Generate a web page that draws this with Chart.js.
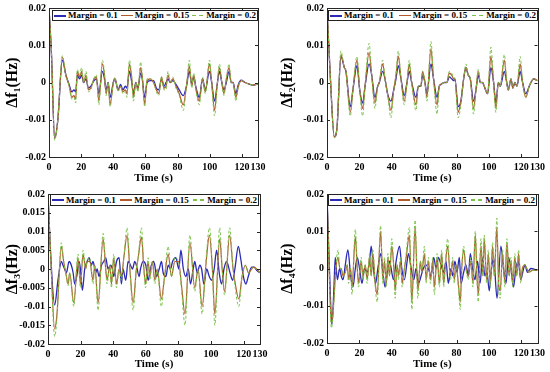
<!DOCTYPE html>
<html><head><meta charset="utf-8">
<script src="https://cdn.jsdelivr.net/npm/chart.js@4"></script>
<style>
html,body{margin:0;padding:0;background:#fff;}
body{width:550px;height:372px;position:relative;overflow:hidden;}
.panel{position:absolute;width:275px;height:186px;}
.panel canvas{position:absolute;left:0;top:0;}
.legend{position:absolute;box-sizing:border-box;border:1px solid #222;background:#fff;display:flex;justify-content:space-between;align-items:center;padding:0 1px;font:bold 9px "Liberation Serif",serif;color:#000;white-space:nowrap;line-height:9px;}
.item{display:flex;align-items:center;}
.sw{display:inline-block;width:12px;margin-right:2px;}
</style></head><body>
<script>
// ---------- axes / labels ----------
const X_TICKS=[0,20,40,60,80,100,120,130];
const Y_TICKS_A=[-0.02,-0.01,0,0.01,0.02];
const Y_LABELS_A=['-0.02','-0.01','0','0.01','0.02'];
const Y_TICKS_B=[-0.02,-0.015,-0.01,-0.005,0,0.005,0.01,0.015,0.02];
const Y_LABELS_B=['-0.02','-0.015','-0.01','-0.005','0','0.005','0.01','0.015','0.02'];
const SERIES=['Margin = 0.1','Margin = 0.15','Margin = 0.2'];
const Y_TITLES=['Δf₁(Hz)','Δf₂(Hz)','Δf₃(Hz)','Δf₄(Hz)'];
const X_TITLE='Time (s)';

// ---------- panel 1 (Δf1) ----------
const P1_T=[0,1.5,3.5,5.5,8.3,10.5,12.5,14.2,15.5,16.6,
17.6,19,20.3,21.5,23,24.5,26,28,29.5,31,
33.2,34.5,35.5,36.8,38,40,41,43,44.5,46,
47.5,48.5,50,51.5,52.5,54,55.3,57,58,59.5,
61,63,65,66.8,68.3,70,71.5,72.8,74,75.5,
77,79,81,83.5,85.5,87.3,88.8,90,91.5,93.5,
95.5,97.2,99.8,101,103,104.5,106,107.5,108.8,110.3,
112,113.3,114.5,116.2,117.8,119.5,122,125,127,130];
const P1_M01=[0.02,0.008,-0.015,-0.01,0.006,0.002,-0.0005,-0.0025,-0.002,-0.0025,
0.002,0.001,0.002,0,0.001,-0.0015,-0.001,0.0005,0.001,-0.003,
0.003,0.001,-0.002,0,-0.004,0,0.001,-0.002,-0.0005,-0.002,
-0.001,-0.0015,0.003,0,-0.003,0,-0.0015,0.0025,0.001,-0.004,
0,0.0005,0.0005,-0.0015,-0.002,0.001,-0.001,0,0.001,0,
0.0005,-0.0005,-0.002,-0.0035,-0.001,0.003,-0.0005,0.0015,-0.0015,-0.004,
0.001,-0.002,0.003,0.0005,-0.005,-0.001,0.003,0,-0.002,0,
0.003,0,0,-0.003,-0.0005,0.0006,0,-0.0005,-0.0007,-0.0004];
const P1_M015=[0.02,0.008,-0.015,-0.01,0.0068,0.002,-0.0008,-0.004,-0.0035,-0.0045,
0.003,0.0015,0.003,0,0.002,-0.002,-0.0015,0.001,0.0015,-0.005,
0.005,0.002,-0.003,0,-0.006,0,0.001,-0.002,-0.001,-0.0025,
-0.002,-0.003,0.005,0.001,-0.004,0,-0.002,0.004,0.0015,-0.006,
0.0005,0.001,0,-0.002,-0.003,0.0015,-0.0015,-0.001,0.002,0,
0.001,-0.001,-0.003,-0.006,-0.001,0.0045,-0.001,0.002,-0.002,-0.005,
0.001,-0.0025,0.005,0.001,-0.0075,-0.001,0.004,0,-0.003,0.001,
0.004,0,0,-0.004,-0.001,0.0005,0,-0.0005,-0.0007,-0.0004];
const P1_M02=[0.02,0.008,-0.0155,-0.01,0.0072,0.002,-0.001,-0.0045,-0.004,-0.0055,
0.0035,0.002,0.004,0,0.003,-0.0025,-0.002,0.0012,0.002,-0.006,
0.006,0.0025,-0.0035,0,-0.0065,0,0.0015,-0.0025,-0.001,-0.003,
-0.0025,-0.004,0.006,0.0015,-0.005,0,-0.0025,0.0055,0.002,-0.0065,
0.001,0.001,0,-0.0025,-0.0035,0.0015,-0.002,-0.002,0.003,0,
0.0015,-0.0015,-0.0035,-0.0075,-0.001,0.006,-0.0015,0.0025,-0.0025,-0.006,
0.0015,-0.003,0.006,0.001,-0.009,-0.0015,0.005,0,-0.0035,0.001,
0.005,0,0,-0.005,-0.001,0.0005,0,-0.0005,-0.0007,-0.0004];

// ---------- panel 2 (Δf2) ----------
const P2_T=[0,2,4.5,6.2,8.6,10.7,11.7,14.4,16,18.5,
20.2,22,23.5,26,27.6,29.6,31.3,32.3,34.4,35.8,
37.4,39.5,41.2,42.6,44,45.7,47.7,49.4,50.8,52.3,
55,56.4,58,59,60.5,61.7,64.2,65.8,68,69.3,
70.4,72.4,74,75.5,77,78.2,79,81,82.7,84.4,
85.8,87.2,88.5,90.5,92,93.4,94.7,96.1,97.1,99.2,
101.2,102.9,104.3,105.8,107,109.5,111,112,113.6,114.8,
116,117.3,119.3,120.8,122.8,124.9,127.6,130];
const P2_M01=[0.02,0.002,-0.0146,-0.012,0.007,0.004,0.003,-0.0065,-0.002,0.0045,
-0.002,-0.0055,-0.001,0.005,0.002,-0.004,-0.001,0,0.003,0.001,
-0.003,-0.005,-0.002,0.001,0.0045,0.001,-0.0035,0,0.003,0,
-0.004,-0.001,-0.001,0.002,0,-0.003,0.005,0.001,-0.004,-0.001,
-0.0005,0,0,0.0015,0.001,0.0005,0.001,-0.0065,-0.005,0.001,
0.004,0.002,0.001,-0.005,-0.002,0.002,0,0,-0.001,-0.003,
0.004,0,-0.0055,0,-0.001,0.003,0,-0.002,0.001,-0.0015,
0,-0.001,0.003,0,-0.003,-0.001,0.001,0.0005];
const P2_M015=[0.02,0.002,-0.0146,-0.012,0.0075,0.004,0.003,-0.008,-0.002,0.006,
-0.002,-0.007,-0.001,0.008,0.002,-0.0055,-0.001,0,0.005,0.001,
-0.003,-0.0075,-0.002,0.002,0.007,0.001,-0.005,0,0.005,0,
-0.006,-0.001,-0.001,0.003,0,-0.004,0.009,0.001,-0.006,-0.001,
-0.0005,0,0,0.0025,0.002,0.001,0.001,-0.008,-0.005,0.001,
0.004,0.002,0.001,-0.007,-0.002,0.003,0,0,-0.001,-0.003,
0.007,0,-0.007,0,-0.001,0.006,0,-0.002,0.001,-0.0015,
0,-0.001,0.005,0,-0.004,-0.001,0.001,0.0005];
const P2_M02=[0.02,0.002,-0.0148,-0.012,0.0085,0.004,0.003,-0.009,-0.002,0.007,
-0.002,-0.009,-0.001,0.0105,0.002,-0.007,-0.001,0,0.006,0.001,
-0.003,-0.0095,-0.002,0.002,0.0085,0.001,-0.006,0,0.006,0,
-0.0075,-0.001,-0.001,0.003,0,-0.005,0.011,0.001,-0.0085,-0.001,
-0.0005,0,0,0.003,0.0025,0.0015,0.001,-0.0095,-0.006,0.001,
0.005,0.002,0.001,-0.0085,-0.002,0.0035,0,0,-0.001,-0.003,
0.0095,0,-0.008,0,-0.001,0.0075,0,-0.002,0.001,-0.0015,
0,-0.001,0.007,0,-0.004,-0.001,0.001,0.0005];

// ---------- panel 3 (Δf3) ----------
const P3_T01=[0,1.5,4.1,6.1,8.2,9.2,10.2,11.3,12.9,14.3,
15.4,16.4,17.8,19,19.9,21.1,22.5,24,25.2,26.6,
27.6,29.3,30.1,31.3,32.8,34.2,35.4,36.8,38.3,39.5,
40.3,42,43.6,45,46,47.7,49.1,50.6,51.8,53.2,
54.2,55.9,56.7,58.3,60,61.4,62.8,64.5,65.5,66.5,
68.2,69.6,70.6,72.3,73.7,75.1,76.4,78.4,80.2,81.5,
83,84.5,86,87.4,89,90,91.5,93.1,94.2,95.6,
97.3,98.9,100.3,101.9,103.4,105,106.4,107.9,109.5,111.6,
113.2,114.6,116.7,118.1,119.8,121.4,122.8,124.9,126.3,128.3,
130];
const P3_M01=[0.02,0.005,-0.0096,-0.003,0.002,0.001,0,-0.001,0.002,0.001,
-0.001,-0.004,-0.0015,0.002,0,-0.0057,0,0.002,0.003,0.001,
0.002,-0.001,0,-0.002,0.001,0.002,0.003,0,0.001,0,
-0.002,0.002,0.003,-0.004,0,-0.003,0.002,0.001,0,0.002,
0.001,-0.002,0,0.002,0.001,-0.003,0,0.002,0.001,-0.002,
0,0.002,-0.001,-0.002,0.001,0,0.002,0.003,0,0.005,
0,-0.002,0,-0.004,0,0.002,-0.001,0.001,0,-0.004,
0,-0.002,-0.003,0,0.005,-0.001,-0.004,0,0.002,-0.001,
-0.003,0,0.006,0.003,-0.002,-0.004,-0.002,0.0005,0.0005,-0.0005,
-0.001];
const P3_T=[0,1.5,4.1,5.5,8.2,9.6,11.3,12.3,13.3,15.8,
18.4,19.9,21.5,23.1,24,25.6,27.6,28.7,30.7,33.8,
35.4,36.2,37.9,38.9,40.3,42,43.6,45,46.5,48.5,
50.2,52.2,54.2,55.3,57.3,58.8,59.8,61.4,62.4,64,
65.5,67,69.5,71.5,73.7,75.7,77.8,80,82,84,
87,90,92,94.5,97,99,100.8,102.3,105.3,106.8,
108.3,111.4,113.5,114.5,117,119,121,123,126,128,
130];
const P3_M015=[0.02,0.005,-0.016,-0.012,0.006,0.002,-0.002,-0.004,-0.001,-0.009,
0.003,-0.004,0.004,0,0.002,0.002,-0.003,0.001,-0.009,0.008,
0,-0.003,0.001,-0.004,0.003,-0.004,0,-0.002,0.003,0.009,
0,-0.009,0,0.003,0.0085,0,-0.004,0.002,-0.002,0.002,
-0.003,0,-0.008,-0.002,0.004,-0.002,0.002,0.002,-0.005,-0.012,
0.007,-0.005,0,-0.01,0.002,0.009,0,-0.012,0.008,0,
-0.006,0.009,0,-0.003,-0.008,-0.002,0.001,-0.001,0.0005,0,
-0.001];
const P3_M02=[0.02,0.005,-0.018,-0.013,0.007,0.002,-0.002,-0.0045,-0.001,-0.01,
0.004,-0.005,0.005,0,0.002,0.003,-0.004,0.001,-0.011,0.0095,
0,-0.004,0.001,-0.005,0.004,-0.005,0,-0.003,0.003,0.011,
0,-0.011,0,0.003,0.011,0,-0.005,0.003,-0.003,0.002,
-0.004,0,-0.01,-0.002,0.006,-0.002,0.003,0.002,-0.006,-0.015,
0.009,-0.006,0,-0.012,0.003,0.011,0,-0.015,0.011,0,
-0.007,0.011,0,-0.004,-0.01,-0.002,0.001,-0.001,0.0005,0,
-0.001];

// ---------- panel 4 (Δf4) ----------
const P4_T01=[0,1.5,3.1,4.3,5.1,6.4,7.8,8.8,9.9,11.3,
12.9,14.6,16,17.5,18.7,20.1,21.6,23.2,24.8,26.3,
27.3,28.7,30,31.4,33.1,34.5,35.9,37.6,38.6,39.6,
41.1,42.7,44.8,46.2,47.8,49.5,50.3,52,53.6,55,
56.5,58.1,59.5,61.2,62.6,64.3,65.9,67.4,68.8,70.4,
72.1,73.5,74.9,76.6,77.6,79,80.3,81.7,82.8,84.4,
85.8,87.3,88.5,89.9,91.4,93,94.5,96.1,97.5,98.8,
100.2,101.6,102.9,105,107.4,109,110.5,112.1,113.6,115.2,
116.6,118.1,119.7,121.4,122.2,123.8,125.9,130];
const P4_M01=[0.02,0,-0.015,-0.005,0.003,-0.003,0,-0.002,-0.003,0.001,
0.005,-0.002,-0.005,0,0.003,0,-0.004,0,-0.001,0.002,
0.006,0,-0.004,0,0.004,-0.001,-0.005,0,0.002,0,
-0.003,0.002,0.006,0,-0.003,0.002,0.004,0,-0.003,0,
-0.004,-0.002,0,0.001,0,-0.002,0.003,0,0.003,0.001,
-0.001,0.002,-0.004,0,-0.002,0.002,-0.001,0.003,-0.004,-0.001,
0.001,-0.002,0.004,0,-0.003,0.002,-0.004,0.003,-0.002,-0.001,
-0.006,0,0.003,-0.008,0.006,0,-0.004,0.003,0,-0.005,
0,0.002,-0.003,0,0.001,-0.001,0,-0.0005];
const P4_T=[0,1.3,2.7,4.3,5.3,6.8,8,8.8,9.9,11.3,
12.5,13.3,14.6,15.4,17.5,18.7,19.5,21.1,22.2,23.6,
24.8,26.3,27.3,28.3,29.8,31,33.1,34.5,35.5,36.6,
37.6,38.6,40,41.3,42.1,43.3,44.1,45.4,46.4,47.8,
48.9,50.9,52.4,54.4,56.1,57.7,58.5,60.2,61.2,62.6,
63.9,65.3,66.3,68,69.4,70.8,72.1,72.9,74.5,76.2,
77.6,78.6,79.7,81.1,82.3,83.2,84.4,85.8,87.3,88.9,
90.1,91.6,92.6,93.4,95.1,96.3,97.1,98.6,99.6,100.8,
102.3,103.3,104.9,106,107,108.4,109.9,111.1,112.5,113.6,
114.8,116,117.2,118.3,119.7,120.7,122.2,123.4,124.8,126.9,
130];
const P4_M015=[0.02,0,-0.015,-0.008,-0.001,0.003,0,0,-0.002,-0.001,
0.001,-0.003,0,-0.005,0.0085,0,-0.004,0.002,-0.002,0.001,
-0.003,0.003,-0.002,0.004,-0.004,-0.007,0.01,-0.003,0.002,-0.004,
0.003,-0.002,0.006,0,-0.006,0.001,-0.002,0.002,-0.004,0,
0.003,0.009,-0.009,0.011,-0.006,0.002,-0.001,0.004,-0.003,0.002,
-0.003,0.002,-0.005,0.003,-0.004,0.004,-0.004,0,0.006,-0.002,
0.002,-0.003,0.001,-0.004,-0.009,0,0.005,0,-0.002,0.002,
-0.004,0.009,-0.002,-0.007,0.006,-0.002,0.008,-0.003,0.004,-0.004,
0.006,-0.002,0.011,-0.004,-0.006,0.004,-0.004,0.007,-0.002,0.002,
-0.004,0.003,-0.002,0.004,-0.003,0,0.001,0,-0.001,-0.0005,
-0.0005];
const P4_M02=[0.02,0,-0.016,-0.009,-0.001,0.005,0,0,-0.002,-0.001,
0.001,-0.004,0,-0.007,0.0105,0,-0.005,0.003,-0.003,0.001,
-0.004,0.004,-0.002,0.005,-0.005,-0.009,0.0115,-0.004,0.003,-0.005,
0.004,-0.002,0.008,0,-0.008,0.001,-0.003,0.003,-0.005,0,
0.004,0.011,-0.011,0.013,-0.008,0.002,-0.001,0.006,-0.004,0.003,
-0.004,0.003,-0.007,0.004,-0.005,0.005,-0.005,0,0.008,-0.003,
0.003,-0.004,0.001,-0.005,-0.011,0,0.006,0,-0.003,0.003,
-0.005,0.01,-0.002,-0.009,0.008,-0.002,0.009,-0.004,0.005,-0.005,
0.007,-0.002,0.0135,-0.005,-0.008,0.005,-0.005,0.008,-0.002,0.003,
-0.005,0.004,-0.002,0.005,-0.004,0,0.001,0,-0.001,-0.0005,
-0.0005];

// ---------- styling ----------
const FONT='"Liberation Serif", "Times New Roman", serif';
const COLORS=['#2a2ab4','#b05a2c','#7cc24a'];
const WIDTHS=[1.3,1.2,1];
const DASHES=[[],[],[3,2]];

const PANELS=[
 {left:0,top:0,area:{l:49,r:258,t:6,b:157},leg:{l:52,t:10,w:206,h:11},yt:Y_TICKS_A,yl:Y_LABELS_A,
  series:[[P1_T,P1_M01],[P1_T,P1_M015],[P1_T,P1_M02]]},
 {left:275,top:0,area:{l:52,r:263,t:6,b:157},leg:{l:53,t:10,w:210,h:11},yt:Y_TICKS_A,yl:Y_LABELS_A,
  series:[[P2_T,P2_M01],[P2_T,P2_M015],[P2_T,P2_M02]]},
 {left:0,top:186,area:{l:48,r:260,t:5,b:158},leg:{l:50,t:8,w:209,h:12},yt:Y_TICKS_B,yl:Y_LABELS_B,
  series:[[P3_T01,P3_M01],[P3_T,P3_M015],[P3_T,P3_M02]]},
 {left:275,top:186,area:{l:52,r:263,t:5,b:157},leg:{l:53,t:8,w:209,h:12},yt:Y_TICKS_A,yl:Y_LABELS_A,
  series:[[P4_T01,P4_M01],[P4_T,P4_M015],[P4_T,P4_M02]]}
];

const framePlugin={
  id:'frame',
  afterDatasetsDraw(chart){
    const {ctx,chartArea:a,scales:{x,y}}=chart;
    ctx.save();
    ctx.strokeStyle='#262626';ctx.lineWidth=1;
    ctx.beginPath();
    x.ticks.forEach(t=>{const px=Math.round(x.getPixelForValue(t.value))+0.5;
      ctx.moveTo(px,a.bottom);ctx.lineTo(px,a.bottom-3);ctx.moveTo(px,a.top);ctx.lineTo(px,a.top+3);});
    y.ticks.forEach(t=>{const py=Math.round(y.getPixelForValue(t.value))+0.5;
      ctx.moveTo(a.left,py);ctx.lineTo(a.left+3,py);ctx.moveTo(a.right,py);ctx.lineTo(a.right-3,py);});
    ctx.stroke();
    ctx.strokeRect(Math.round(a.left)+0.5,Math.round(a.top)+0.5,Math.round(a.right-a.left),Math.round(a.bottom-a.top));
    ctx.restore();
  }
};

PANELS.forEach((p,idx)=>{
  const div=document.createElement('div');
  div.className='panel';div.style.left=p.left+'px';div.style.top=p.top+'px';
  document.body.appendChild(div);
  const cv=document.createElement('canvas');cv.width=275;cv.height=186;div.appendChild(cv);
  const a=p.area;
  const datasets=p.series.map(([T,V],k)=>{
    if(T.length!==V.length) throw new Error('length mismatch panel '+idx+' series '+k+': '+T.length+' vs '+V.length);
    return {label:SERIES[k],data:T.map((t,i)=>({x:t,y:V[i]})),borderColor:COLORS[k],backgroundColor:COLORS[k],
      borderWidth:WIDTHS[k],borderDash:DASHES[k],pointRadius:0,fill:false,cubicInterpolationMode:'monotone',order:3-k};
  });
  new Chart(cv,{type:'line',data:{datasets},
    options:{responsive:false,animation:false,devicePixelRatio:1,
      layout:{padding:{left:0,right:275-a.r,top:a.t,bottom:0}},
      plugins:{legend:{display:false},tooltip:{enabled:false}},
      scales:{
        x:{type:'linear',min:0,max:130,
          afterFit:s=>{s.height=186-a.b;},
          afterBuildTicks:s=>{s.ticks=X_TICKS.map(v=>({value:v}));},
          grid:{display:false,drawTicks:false},border:{display:false},
          ticks:{autoSkip:false,maxRotation:0,minRotation:0,padding:5,color:'#000',
            font:{family:FONT,weight:'bold',size:10,lineHeight:1},callback:v=>String(v)},
          title:{display:true,text:X_TITLE,color:'#000',font:{family:FONT,weight:'bold',size:11},padding:{top:0,bottom:1}}},
        y:{type:'linear',min:-0.02,max:0.02,
          afterFit:s=>{s.width=a.l;},
          afterBuildTicks:s=>{s.ticks=p.yt.map(v=>({value:v}));},
          grid:{display:false,drawTicks:false},border:{display:false},
          ticks:{autoSkip:false,padding:3,color:'#000',
            font:{family:FONT,weight:'bold',size:10,lineHeight:1},callback:(v,i)=>p.yl[i]},
          title:{display:true,text:Y_TITLES[idx],color:'#000',font:{family:FONT,weight:'bold',size:16},padding:{top:3,bottom:0}}}
      }},
    plugins:[framePlugin]});
  // legend (HTML overlay, built from series names)
  const lg=document.createElement('div');lg.className='legend';
  lg.style.left=p.leg.l+'px';lg.style.top=p.leg.t+'px';lg.style.width=p.leg.w+'px';lg.style.height=p.leg.h+'px';
  SERIES.forEach((name,k)=>{
    const it=document.createElement('span');it.className='item';
    const sw=document.createElement('span');sw.className='sw';
    if(k===2){sw.style.height='1.5px';sw.style.background='repeating-linear-gradient(90deg,'+COLORS[k]+' 0 4px,transparent 4px 7px)';}
    else{sw.style.height=(k===0?2:1.5)+'px';sw.style.background=COLORS[k];}
    it.appendChild(sw);
    const tx=document.createElement('span');tx.textContent=name;it.appendChild(tx);
    lg.appendChild(it);
  });
  div.appendChild(lg);
});
</script>
</body></html>
